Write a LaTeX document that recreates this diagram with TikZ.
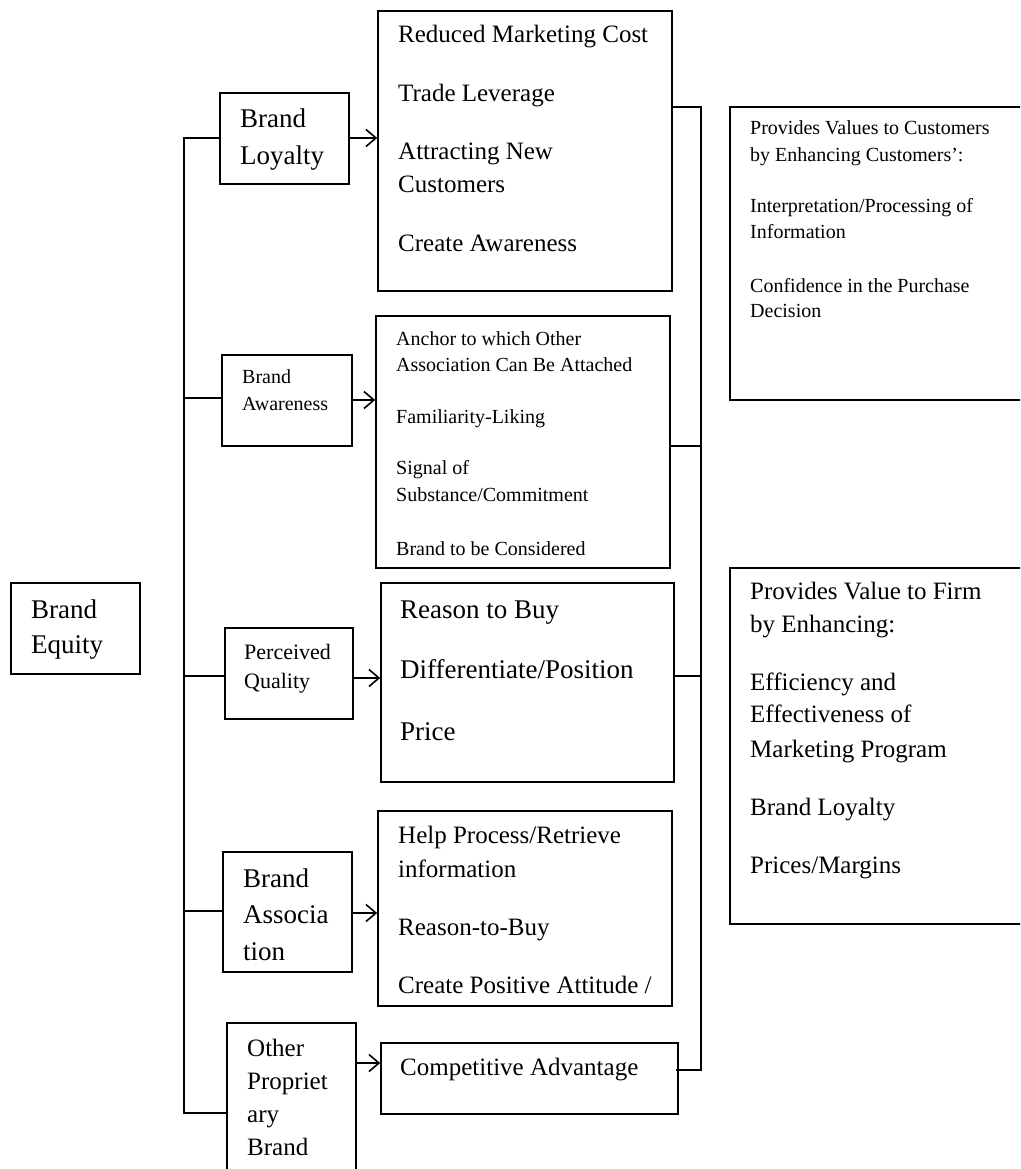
\documentclass[tikz,border=0pt]{standalone}
\usepackage{fontspec}
\setmainfont{Liberation Serif}
\usetikzlibrary{arrows.meta,fit}
\begin{document}
\begin{tikzpicture}[x=1pt,y=-1pt,
  box/.style={draw,line width=1.6pt,rectangle,inner sep=0pt},
  wire/.style={line width=1.6pt},
  arr/.style={line width=1.6pt,-{Straight Barb[length=10pt,width=17pt,line width=1.6pt]}},
  txt/.style={anchor=base west,inner sep=0pt},
  fa/.style={txt,font=\fontsize{20}{24}\selectfont},
  fb/.style={txt,font=\fontsize{22}{26}\selectfont},
  fc/.style={txt,font=\fontsize{25}{30}\selectfont},
  fd/.style={txt,font=\fontsize{27}{32}\selectfont}]
\useasboundingbox (0,0) rectangle (1020,1169);
\clip (0,0) rectangle (1020,1169);

% frames of the boxes
\node[box,fit={(11,583)(140,674)}] (eq) {};
\node[box,fit={(220,93)(349,184)}] (bl) {};
\node[box,fit={(378,11)(672,291)}] (lyeff) {};
\node[box,fit={(222,355)(352,446)}] (baw) {};
\node[box,fit={(376,316)(670,568)}] (aweff) {};
\node[box,fit={(225,628)(353,719)}] (pq) {};
\node[box,fit={(381,583)(674,782)}] (pqeff) {};
\node[box,fit={(223,852)(352,972)}] (ba) {};
\node[box,fit={(378,811)(672,1006)}] (baeff) {};
\node[box,fit={(227,1023)(356,1190)}] (opb) {};
\node[box,fit={(381,1043)(678,1114)}] (cadv) {};
\node[box,fit={(730,107)(1045,400)}] (cust) {};
\node[box,fit={(730,568)(1045,924)}] (firm) {};

% Brand Equity
\node[fd] (eq1) at (31,618) {Brand};
\node[fd] (eq2) at (31,653) {Equity};

% Brand Loyalty
\node[fd] (bl1) at (240,128) {Brand};
\node[fd] (bl2) at (240,165) {Loyalty};
\node[fc] (ly1) at (398,43) {Reduced Marketing Cost};
\node[fc] (ly2) at (398,102) {Trade Leverage};
\node[fc] (ly3) at (398,160) {Attracting New};
\node[fc] (ly4) at (398,193) {Customers};
\node[fc] (ly5) at (398,251) {Create Awareness};

% Brand Awareness
\node[fa] (baw1) at (242,383) {Brand};
\node[fa] (baw2) at (242,410) {Awareness};
\node[fa] (aw1) at (396,345) {Anchor to which Other};
\node[fa] (aw2) at (396,371) {Association Can Be Attached};
\node[fa] (aw3) at (396,423) {Familiarity-Liking};
\node[fa] (aw4) at (396,474) {Signal of};
\node[fa] (aw5) at (396,501) {Substance/Commitment};
\node[fa] (aw6) at (396,555) {Brand to be Considered};

% Perceived Quality
\node[fb] (pq1) at (244,659) {Perceived};
\node[fb] (pq2) at (244,688) {Quality};
\node[fd] (pe1) at (400,618) {Reason to Buy};
\node[fd] (pe2) at (400,678) {Differentiate/Position};
\node[fd] (pe3) at (400,740) {Price};

% Brand Association
\node[fd] (ba1) at (243,887) {Brand};
\node[fd] (ba2) at (243,923) {Associa};
\node[fd] (ba3) at (243,960) {tion};
\node[fc] (be1) at (398,843) {Help Process/Retrieve};
\node[fc] (be2) at (398,877) {information};
\node[fc] (be3) at (398,935) {Reason-to-Buy};
\node[fc] (be4) at (398,993) {Create Positive Attitude /};

% Other Proprietary Brand
\node[fc] (op1) at (247,1056) {Other};
\node[fc] (op2) at (247,1089) {Propriet};
\node[fc] (op3) at (247,1122) {ary};
\node[fc] (op4) at (247,1155) {Brand};
\node[fc] (ca1) at (400,1075) {Competitive Advantage};

% value to customers
\node[fa] (cu1) at (750,135) {Provides Values to Customers};
\node[fa] (cu2) at (750,162) {by Enhancing Customers’:};
\node[fa] (cu3) at (750,212) {Interpretation/Processing of};
\node[fa] (cu4) at (750,238) {Information};
\node[fa] (cu5) at (750,292) {Confidence in the Purchase};
\node[fa] (cu6) at (750,317) {Decision};

% value to firm
\node[fc] (fi1) at (750,599) {Provides Value to Firm};
\node[fc] (fi2) at (750,632) {by Enhancing:};
\node[fc] (fi3) at (750,690) {Efficiency and};
\node[fc] (fi4) at (750,722) {Effectiveness of};
\node[fc] (fi5) at (750,757) {Marketing Program};
\node[fc] (fi6) at (750,815) {Brand Loyalty};
\node[fc] (fi7) at (750,873) {Prices/Margins};

% left trunk joining the dimensions
\coordinate (trtop) at (184,138);
\coordinate (trbot) at (184,1113);
\draw[wire] (bl.west |- trtop) -- (trtop) -- (trbot) -- (opb.west |- trbot);
\draw[wire] (baw.west |- 0,398) -- (trtop |- 0,398);
\draw[wire] (pq.west |- 0,676) -- (trtop |- 0,676);
\draw[wire] (ba.west |- 0,911) -- (trtop |- 0,911);

% arrows to the effects
\draw[arr] (bl.east |- 0,138) -- (lyeff.west |- 0,138);
\draw[arr] (baw.east |- 0,400) -- (aweff.west |- 0,400);
\draw[arr] (pq.east |- 0,678) -- (pqeff.west |- 0,678);
\draw[arr] (ba.east |- 0,913) -- (baeff.west |- 0,913);
\draw[arr] (opb.east |- 0,1063) -- (cadv.west |- 0,1063);

% right bracket collecting the effects
\coordinate (bxtop) at (701,107);
\coordinate (bxbot) at (701,1070);
\draw[wire] (lyeff.east |- bxtop) -- (bxtop) -- (bxbot) -- (676,1070);
\draw[wire] (aweff.east |- 0,446) -- (bxtop |- 0,446);
\draw[wire] (pqeff.east |- 0,676) -- (bxtop |- 0,676);
\end{tikzpicture}
\end{document}
